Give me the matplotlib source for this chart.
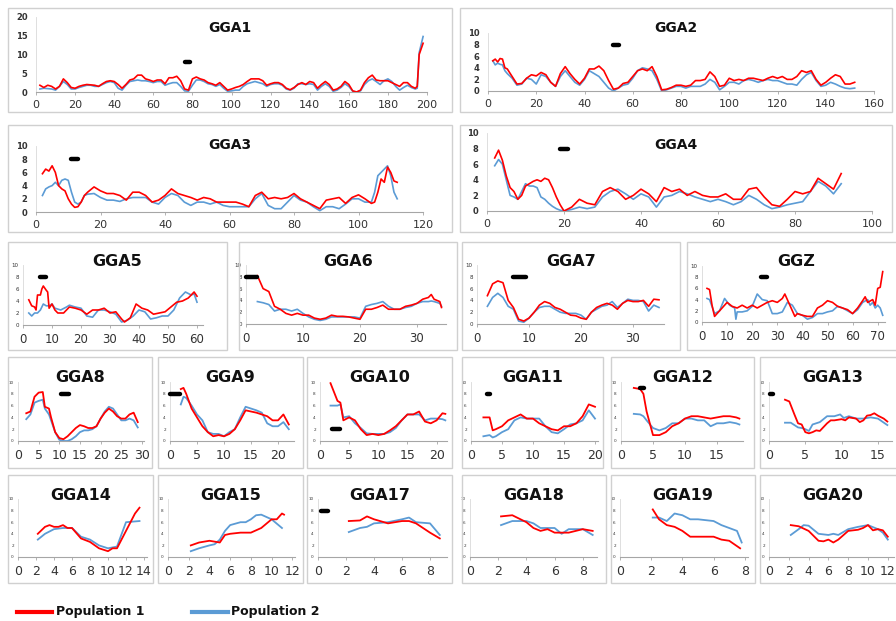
"""Two-population sliding-window profiles along chicken chromosomes (22 panels)."""
import numpy as np
import matplotlib
matplotlib.use("Agg")
import matplotlib.pyplot as plt
from matplotlib.patches import Rectangle

RED, BLUE = "#FF0000", "#5B9BD5"
W, H = 896, 621

# ---------------------------------------------------------------- data
gga1_pos = np.r_[np.arange(2, 195, 2), 195, 196, 198]
gga1_pop1 = [1.8, 1.2, 1.8, 1.5, 0.8, 1.5, 3.5, 2.5, 1.2, 1.0,
             1.5, 1.8, 2.0, 1.9, 1.8, 1.5, 2.2, 2.8, 3.0, 2.8,
             2.0, 1.0, 2.0, 3.2, 3.5, 4.5, 4.5, 3.5, 3.2, 2.8,
             3.2, 3.2, 2.2, 3.8, 3.8, 4.2, 3.0, 0.8, 0.5, 3.5,
             4.0, 3.5, 3.2, 2.5, 2.2, 1.8, 2.5, 1.5, 0.5, 0.8,
             1.2, 1.5, 2.0, 2.8, 3.5, 3.5, 3.5, 3.0, 1.8, 2.2,
             2.5, 2.5, 2.0, 1.0, 0.6, 1.2, 2.0, 2.5, 2.0, 2.8,
             2.5, 1.0, 2.0, 2.8, 2.0, 0.5, 0.8, 1.5, 2.8, 2.0,
             0.3, 0.0, 0.5, 2.5, 3.8, 4.5, 3.2, 3.0, 3.0, 3.0,
             2.5, 2.0, 1.5, 2.5, 2.5, 1.5, 1.0, 1.5, 10.0, 13.0]
gga1_pop2 = [0.8, 1.0, 0.9, 0.8, 0.5, 1.5, 2.8, 2.0, 0.8, 0.8,
             1.2, 1.5, 1.8, 1.8, 1.5, 1.5, 2.0, 2.5, 2.8, 2.5,
             1.0, 0.5, 1.8, 2.8, 3.0, 3.2, 3.0, 3.0, 2.8, 2.5,
             2.8, 2.8, 1.8, 2.2, 2.5, 2.5, 1.5, 0.3, 0.2, 1.8,
             3.2, 3.2, 2.8, 2.2, 2.0, 1.5, 2.0, 1.0, 0.2, 0.3,
             0.5, 0.5, 1.5, 2.2, 2.5, 2.8, 2.5, 2.2, 1.5, 2.0,
             2.2, 2.2, 1.8, 0.8, 0.5, 1.0, 2.2, 2.2, 2.0, 2.2,
             2.0, 0.5, 1.5, 2.2, 1.5, 0.2, 0.5, 1.2, 2.2, 1.5,
             0.2, 0.0, 0.3, 2.0, 3.0, 3.5, 2.8, 2.0, 3.0, 3.5,
             2.8, 1.5, 0.5, 1.2, 1.8, 1.2, 0.8, 1.0, 10.5, 14.8]

gga2_pos = np.r_[2, 3, 4, 5, 6, 7, np.arange(8, 153, 2)]
gga2_pop1 = [5.2, 5.5, 5.0, 5.6, 5.5, 4.0,
             3.8, 2.5, 1.2, 1.3, 2.2, 2.8, 2.6, 3.2, 2.8, 1.5,
             0.8, 3.0, 4.2, 3.0, 2.0, 1.2, 2.2, 3.8, 3.8, 4.3,
             3.5, 1.8, 0.3, 0.5, 1.3, 1.5, 2.5, 3.5, 3.8, 3.5,
             4.2, 2.5, 0.2, 0.3, 0.6, 1.0, 1.0, 0.8, 1.0, 1.8,
             1.8, 2.0, 3.3, 2.5, 0.8, 1.0, 2.2, 1.8, 2.0, 1.8,
             2.2, 2.2, 2.0, 1.8, 2.2, 2.5, 2.2, 2.5, 2.0, 2.0,
             2.5, 3.5, 3.2, 3.5, 2.0, 1.0, 1.5, 2.2, 2.8, 2.5,
             1.2, 1.2, 1.5]
gga2_pop2 = [5.2, 4.5, 4.8, 4.6, 4.5, 3.5,
             3.0, 2.2, 1.0, 1.2, 2.2, 2.0, 1.2, 2.8, 2.5, 1.5,
             0.8, 2.5, 3.5, 2.5, 1.5, 1.0, 2.0, 3.5, 3.0, 2.5,
             1.5, 0.5, 0.0, 0.5, 1.0, 1.2, 2.2, 3.5, 4.0, 3.8,
             3.5, 2.0, 0.0, 0.2, 0.5, 0.8, 0.8, 0.5, 0.8, 0.8,
             0.8, 1.2, 2.0, 1.5, 0.2, 0.8, 1.5, 1.5, 1.2, 1.8,
             2.0, 1.8, 1.5, 1.8, 2.0, 1.8, 1.8, 1.5, 1.2, 1.2,
             1.0, 2.0, 2.8, 3.2, 1.8, 0.8, 1.0, 1.5, 1.2, 0.8,
             0.5, 0.4, 0.5]

gga3_pos = np.r_[np.arange(2, 17), np.arange(18, 105, 2), np.arange(105, 113)]
gga3_pop1 = [5.8, 6.5, 6.2, 7.0, 6.0, 4.0, 3.5, 3.2, 2.0, 1.2, 0.7, 0.8, 1.5, 2.5, 3.0,
             3.8, 3.2, 2.8, 2.8, 2.5, 1.8, 3.0, 3.0, 2.5, 1.5,
             1.8, 2.5, 3.5, 2.8, 2.5, 2.2, 1.8, 2.2, 2.0, 1.5,
             1.5, 1.5, 1.5, 1.2, 0.8, 2.5, 3.0, 2.0, 2.2, 2.0,
             2.2, 2.8, 2.0, 1.5, 1.0, 0.5, 1.8, 2.0, 2.2, 1.3,
             2.2, 2.6, 2.0, 1.3,
             1.5, 3.0, 5.0, 4.5, 6.8, 6.0, 4.7, 4.5]
gga3_pop2 = [2.5, 3.5, 3.8, 4.0, 4.5, 4.0, 4.8, 5.0, 4.8, 3.0, 1.5, 1.2, 1.5, 2.5, 2.7,
             2.8, 2.2, 1.8, 1.8, 1.6, 2.0, 2.2, 2.2, 2.2, 1.5,
             1.2, 2.2, 2.8, 2.5, 1.5, 1.0, 1.5, 1.5, 1.2, 1.5,
             1.0, 0.8, 0.8, 0.8, 0.8, 2.0, 2.8, 1.0, 0.5, 0.5,
             1.5, 2.5, 1.8, 1.5, 0.8, 0.2, 0.8, 0.8, 0.5, 1.2,
             2.0, 2.0, 1.5, 1.5,
             3.0, 5.5, 6.0, 6.5, 7.0, 5.5, 3.0, 2.0]

gga4_pos = np.r_[np.arange(2, 21), np.arange(22, 93, 2)]
gga4_pop1 = [6.8, 7.8, 6.5, 4.5, 3.0, 2.5, 1.5, 2.0, 3.2, 3.5,
             3.8, 4.0, 3.8, 4.2, 4.0, 3.0, 1.8, 0.8, 0.0,
             0.5, 1.5, 1.0, 0.8, 2.5, 3.0, 2.5, 1.5, 2.0, 2.8,
             2.2, 1.2, 3.0, 2.5, 2.8, 2.0, 2.5, 2.0, 1.8, 1.8,
             2.2, 1.5, 1.5, 2.8, 3.0, 1.8, 0.8, 0.6, 1.5, 2.5,
             2.2, 2.5, 4.2, 3.5, 2.8, 4.8]
gga4_pop2 = [5.8, 6.6, 6.0, 4.0, 2.0, 1.8, 1.5, 2.5, 3.5, 3.2,
             3.2, 3.0, 1.8, 1.5, 1.0, 0.6, 0.3, 0.1, 0.0,
             0.2, 0.5, 0.3, 0.5, 1.8, 2.5, 2.8, 2.2, 1.5, 2.2,
             1.8, 0.5, 1.8, 2.0, 2.5, 2.2, 1.8, 1.5, 1.2, 1.5,
             1.2, 0.8, 1.2, 2.0, 1.5, 0.8, 0.3, 0.5, 0.8, 1.0,
             1.2, 2.5, 3.8, 3.2, 2.2, 3.5]

gga5_pos1 = [2, 3, 4, 4.5, 5, 6, 6.5, 7, 8, 8.5, 9, 10, 11, 12, 14, 16, 18, 20, 22, 24,
             26, 28, 30, 32, 34, 35, 37, 39, 41, 43, 45, 47, 49, 51, 53, 55, 57, 59, 60]
gga5_pop1 = [4.2, 3.2, 3.0, 2.5, 5.0, 5.0, 6.0, 6.5, 5.8, 5.5, 2.8, 3.5, 2.5, 2.0, 2.0,
             3.0, 2.8, 2.5, 1.8, 2.5, 2.5, 2.8, 2.0, 2.2, 1.0, 0.5, 1.2, 3.5, 2.8, 2.5,
             1.8, 2.0, 2.2, 3.0, 3.8, 4.0, 4.5, 5.5, 4.8]
gga5_pos2 = [2, 3, 4, 5, 6, 7, 8, 9, 10, 11, 13, 15, 16, 18, 20, 22, 24, 26, 28, 30,
             32, 34, 36, 38, 40, 42, 44, 46, 48, 50, 52, 54, 56, 58, 59, 60]
gga5_pop2 = [2.0, 1.5, 2.0, 2.0, 2.5, 3.5, 3.2, 3.2, 3.5, 2.8, 2.5, 3.0, 3.3, 3.0, 2.8,
             1.5, 1.3, 2.5, 2.5, 2.2, 1.8, 0.5, 0.8, 1.5, 2.5, 2.2, 1.0, 1.2, 1.5, 1.5,
             2.5, 4.5, 5.5, 5.0, 5.2, 3.8]

gga6_pos = np.r_[np.arange(2, 33), 32.5, 33, 34, 34.3]
gga6_pos = np.sort(gga6_pos)
gga6_pop1 = [8.2, 6.0, 5.5, 3.0, 2.5, 1.8, 1.5, 1.8, 1.5, 1.5, 1.0, 0.8, 1.0, 1.5, 1.3,
             1.3, 1.2, 1.0, 0.8, 2.5, 2.5, 2.8, 3.2, 2.5, 2.5, 2.5, 3.0, 3.2, 3.5, 4.2,
             4.5, 5.0, 4.2, 3.8, 2.8]
gga6_pop2 = [3.8, 3.6, 3.3, 2.2, 2.5, 2.5, 2.2, 2.5, 1.8, 1.2, 0.8, 0.6, 0.8, 1.2, 1.2,
             1.2, 1.2, 1.2, 1.0, 3.0, 3.3, 3.5, 3.8, 3.0, 2.5, 2.5, 2.8, 3.0, 3.5, 3.8,
             3.8, 3.9, 3.8, 3.5, 3.0]

gga7_pos = np.arange(2, 36)
gga7_pop1 = [4.8, 6.8, 7.3, 7.0, 4.0, 2.8, 0.8, 0.5, 1.0, 2.0, 3.2, 3.8, 3.5, 2.8, 2.5,
             2.0, 1.5, 1.4, 1.0, 0.8, 2.0, 2.8, 3.2, 3.5, 3.2, 2.5, 3.5, 4.0, 3.8, 3.8,
             4.0, 3.0, 4.2, 4.1]
gga7_pop2 = [3.0, 4.5, 5.2, 4.5, 3.0, 2.5, 0.5, 0.3, 1.0, 2.0, 2.8, 3.0, 3.0, 2.5, 2.0,
             1.8, 1.8, 1.8, 1.5, 0.8, 2.0, 2.5, 3.0, 3.2, 3.8, 2.8, 3.5, 4.2, 4.0, 4.0,
             3.8, 2.2, 3.2, 2.8]

ggz_pos1 = [2, 3, 4, 5, 6, 8, 10, 12, 14, 16, 18, 20, 22, 24, 26, 28, 30, 32, 33, 35,
            36, 37, 38, 40, 42, 44, 46, 48, 50, 52, 54, 56, 58, 60, 62, 64, 65, 66, 68, 69,
            70, 71, 72]
ggz_pop1 = [6.0, 5.8, 3.0, 1.0, 1.5, 2.5, 3.5, 2.8, 2.5, 3.0, 2.5, 3.0, 2.5, 3.0, 3.5,
            3.8, 3.5, 4.2, 5.0, 3.0, 2.0, 1.0, 1.5, 1.2, 1.0, 1.0, 2.5, 3.0, 3.8, 3.5,
            2.8, 2.5, 2.2, 1.5, 2.5, 3.8, 4.5, 3.5, 4.0, 3.0, 6.0, 6.2, 9.0]
ggz_pos2 = [2, 3, 5, 7, 9, 11, 13, 13.5, 14, 16, 18, 20, 22, 24, 26, 28, 30, 32, 34, 36,
            38, 40, 42, 44, 46, 48, 50, 52, 54, 56, 58, 60, 62, 64, 66, 67, 68, 69, 70, 71,
            72]
ggz_pop2 = [4.2, 4.0, 1.5, 2.0, 4.2, 3.0, 2.5, 0.5, 1.8, 1.8, 2.0, 2.8, 5.0, 4.0, 3.8,
            1.5, 1.5, 1.8, 3.5, 3.0, 1.5, 1.2, 0.5, 0.8, 1.5, 1.5, 1.8, 2.0, 2.8, 2.5,
            2.0, 1.5, 2.2, 3.5, 4.0, 3.0, 3.5, 2.5, 3.0, 2.5, 1.2]

gga8_pos = np.r_[2, 3, 4, 5, 6, 6.5, 7.5, np.arange(8, 30)]
gga8_pop1 = [4.7, 5.0, 7.5, 8.2, 8.3, 5.8, 5.5, 4.0, 1.5, 0.5, 0.3, 0.8, 1.5, 2.2, 2.7,
             2.5, 2.2, 2.2, 2.5, 3.8, 4.8, 5.5, 5.0, 4.2, 3.8, 3.8, 4.5, 4.8, 3.2]
gga8_pop2 = [3.7, 4.5, 6.5, 6.8, 7.0, 5.5, 4.5, 3.5, 1.5, 0.2, 0.0, 0.0, 0.3, 0.8, 1.5,
             1.8, 1.8, 2.0, 2.5, 3.8, 5.0, 5.8, 5.5, 4.5, 3.5, 3.5, 3.8, 3.5, 2.3]

gga9_pos = np.r_[2, 2.5, np.arange(3, 23)]
gga9_pop1 = [8.8, 9.0, 8.0, 5.5, 4.0, 2.5, 1.5, 0.8, 1.0, 0.8, 1.2, 2.0, 3.5, 5.2, 5.0,
             4.8, 4.5, 4.2, 3.5, 3.5, 4.5, 2.8]
gga9_pop2 = [6.2, 7.5, 7.3, 6.0, 4.5, 3.5, 1.5, 1.2, 1.2, 0.8, 1.5, 2.0, 4.0, 5.8, 5.5,
             5.2, 4.8, 3.0, 2.5, 2.5, 3.2, 2.0]

gga10_pos = np.r_[1.8, 3, 3.5, np.arange(4, 22), 21.5]
gga10_pop1 = [9.8, 6.8, 6.5, 3.5, 4.0, 3.5, 2.0, 1.0, 1.2, 1.0, 1.2, 1.8, 2.5, 3.5, 4.5,
              4.5, 5.0, 3.3, 3.0, 3.5, 4.7, 4.6]
gga10_pop2 = [6.0, 6.0, 6.2, 4.0, 4.2, 3.0, 2.2, 1.3, 1.2, 1.2, 1.2, 1.5, 2.2, 3.5, 4.5,
              4.5, 4.5, 3.5, 3.8, 3.8, 3.7, 3.5]

gga11_pos = np.r_[2, 3, 3.5, np.arange(4, 21)]
gga11_pop1 = [4.0, 4.0, 1.8, 2.0, 2.5, 3.5, 4.0, 4.5, 3.8, 3.8, 3.0, 2.5, 2.0, 1.8, 2.5,
              2.5, 3.0, 4.2, 6.2, 5.8]
gga11_pop2 = [0.8, 1.0, 0.6, 0.8, 1.5, 2.0, 3.5, 4.0, 3.8, 3.8, 3.8, 2.5, 1.5, 1.3, 2.0,
              2.8, 3.0, 3.5, 5.2, 3.8]

gga12_pos = np.r_[2, 3, 3.5, np.arange(4, 19), 18.5]
gga12_pop1 = [9.0, 8.8, 8.0, 5.0, 1.0, 1.0, 1.5, 2.5, 3.0, 3.8, 4.2, 4.2, 4.0, 3.8, 4.0,
              4.2, 4.2, 4.0, 3.8]
gga12_pop2 = [4.6, 4.5, 4.2, 3.5, 2.2, 1.8, 2.2, 3.0, 3.0, 3.8, 3.8, 3.5, 3.5, 2.5, 3.0,
              3.0, 3.2, 3.0, 2.8]

gga13_pos1 = [2.2, 2.8, 3.5, 4, 4.5, 5, 5.5, 6, 6.5, 7, 8, 8.5, 9, 10, 10.5, 11, 12, 12.5,
              13, 13.5, 14, 14.5, 15, 15.8, 16.3]
gga13_pop1 = [7.0, 6.7, 4.5, 3.0, 2.8, 1.5, 1.3, 1.5, 1.8, 1.7, 3.0, 3.5, 3.5, 3.7, 3.5,
              4.0, 3.8, 3.2, 3.5, 4.3, 4.4, 4.7, 4.3, 3.8, 3.3]
gga13_pos2 = [2.2, 3, 4, 4.5, 5, 5.5, 6, 7, 8, 9, 9.8, 10.3, 11, 12, 13, 14, 15, 16.3]
gga13_pop2 = [3.1, 3.1, 2.3, 2.2, 2.0, 1.7, 2.8, 3.2, 4.2, 4.2, 4.5, 3.9, 4.2, 3.8, 3.8,
              4.0, 3.8, 2.7]

gga14_pos1 = [2.2, 3, 3.5, 4, 4.5, 5, 5.5, 6, 7, 8, 9, 10, 10.5, 11, 12, 13, 13.5]
gga14_pop1 = [4.0, 5.2, 5.5, 5.2, 5.2, 5.5, 5.0, 5.0, 3.2, 2.6, 1.5, 1.0, 1.5, 1.5, 4.5,
              7.5, 8.5]
gga14_pos2 = [2.2, 3, 4, 5, 6, 7, 8, 9, 10, 11, 12, 13.5]
gga14_pop2 = [3.0, 4.0, 4.8, 5.0, 5.0, 3.5, 3.0, 2.0, 1.5, 1.8, 6.0, 6.2]

gga15_pos1 = [2.2, 3, 4, 5, 5.5, 6, 7, 8, 9, 10, 10.5, 11, 11.2]
gga15_pop1 = [2.0, 2.5, 2.8, 2.5, 3.8, 4.0, 4.2, 4.2, 5.0, 6.5, 6.5, 7.5, 7.3]
gga15_pos2 = [2.2, 3, 4, 4.5, 5, 5.5, 6, 7, 7.5, 8, 8.5, 9, 10, 11]
gga15_pop2 = [1.0, 1.5, 2.0, 2.2, 3.0, 4.5, 5.5, 6.0, 6.0, 6.5, 7.2, 7.3, 6.5, 5.0]

gga17_pos = [2.2, 3, 3.5, 4, 5, 6, 6.5, 7, 8, 8.7]
gga17_pop1 = [6.2, 6.3, 7.0, 6.5, 5.8, 6.2, 6.2, 5.8, 4.2, 3.2]
gga17_pop2 = [4.3, 5.0, 5.2, 5.8, 6.0, 6.5, 6.8, 6.0, 5.8, 3.8]

gga18_pos1 = [2.2, 3, 4, 4.5, 5, 5.5, 6, 7, 8, 8.7]
gga18_pop1 = [7.0, 7.2, 6.0, 5.0, 4.5, 4.8, 4.2, 4.2, 4.8, 4.5]
gga18_pos2 = [2.2, 3, 4, 4.5, 5, 5.5, 6, 6.5, 7, 8, 8.7]
gga18_pop2 = [5.5, 6.2, 6.2, 5.8, 5.0, 5.0, 5.0, 4.0, 4.8, 4.8, 3.8]

gga19_pos1 = [2.1, 2.5, 3, 3.5, 4, 4.5, 5, 6, 6.5, 7, 7.7]
gga19_pop1 = [8.2, 6.5, 5.5, 5.2, 4.5, 3.5, 3.5, 3.5, 3.0, 2.8, 1.5]
gga19_pos2 = [2.1, 2.5, 3, 3.5, 4, 4.5, 5, 6, 6.5, 7, 7.5, 7.8]
gga19_pop2 = [6.8, 6.8, 6.2, 7.5, 7.2, 6.5, 6.5, 6.2, 5.5, 5.0, 4.5, 2.5]

gga20_pos1 = [2.2, 3, 4, 5, 5.5, 6, 6.5, 7, 8, 9, 9.5, 10, 10.5, 11, 11.5, 12]
gga20_pop1 = [5.5, 5.3, 4.5, 2.8, 2.7, 3.0, 2.5, 3.0, 4.5, 4.7, 5.0, 5.5, 4.6, 4.8, 4.6, 3.5]
gga20_pos2 = [2.2, 3, 3.5, 4, 5, 6, 6.5, 7, 8, 9, 10, 11, 11.5, 12]
gga20_pop2 = [3.8, 4.8, 5.5, 5.4, 4.0, 3.8, 4.0, 3.8, 4.8, 5.2, 5.5, 4.8, 4.2, 3.0]

# black bars: (start, end, height)
markers = {"GGA1": (76, 79, 8), "GGA2": (52, 54.5, 8), "GGA3": (11, 13, 8),
           "GGA4": (19, 21, 8), "GGA5": (6, 8, 8), "GGA6": (0, 2, 8),
           "GGA7": (7, 9.5, 8), "GGZ": (23.5, 26, 8), "GGA8": (10.5, 12.3, 8),
           "GGA9": (0, 1.8, 8), "GGA10": (2, 3.5, 2), "GGA11": (2.6, 3.1, 8),
           "GGA12": (2.9, 3.6, 9), "GGA13": (0.1, 0.5, 8), "GGA17": (0.2, 0.7, 8)}

series = {
    "GGA1": (gga1_pos, gga1_pop1, gga1_pos, gga1_pop2),
    "GGA2": (gga2_pos, gga2_pop1, gga2_pos, gga2_pop2),
    "GGA3": (gga3_pos, gga3_pop1, gga3_pos, gga3_pop2),
    "GGA4": (gga4_pos, gga4_pop1, gga4_pos, gga4_pop2),
    "GGA5": (gga5_pos1, gga5_pop1, gga5_pos2, gga5_pop2),
    "GGA6": (gga6_pos, gga6_pop1, gga6_pos, gga6_pop2),
    "GGA7": (gga7_pos, gga7_pop1, gga7_pos, gga7_pop2),
    "GGZ": (ggz_pos1, ggz_pop1, ggz_pos2, ggz_pop2),
    "GGA8": (gga8_pos, gga8_pop1, gga8_pos, gga8_pop2),
    "GGA9": (gga9_pos, gga9_pop1, gga9_pos, gga9_pop2),
    "GGA10": (gga10_pos, gga10_pop1, gga10_pos, gga10_pop2),
    "GGA11": (gga11_pos, gga11_pop1, gga11_pos, gga11_pop2),
    "GGA12": (gga12_pos, gga12_pop1, gga12_pos, gga12_pop2),
    "GGA13": (gga13_pos1, gga13_pop1, gga13_pos2, gga13_pop2),
    "GGA14": (gga14_pos1, gga14_pop1, gga14_pos2, gga14_pop2),
    "GGA15": (gga15_pos1, gga15_pop1, gga15_pos2, gga15_pop2),
    "GGA17": (gga17_pos, gga17_pop1, gga17_pos, gga17_pop2),
    "GGA18": (gga18_pos1, gga18_pop1, gga18_pos2, gga18_pop2),
    "GGA19": (gga19_pos1, gga19_pop1, gga19_pos2, gga19_pop2),
    "GGA20": (gga20_pos1, gga20_pop1, gga20_pos2, gga20_pop2),
}

# ---------------------------------------------------------------- layout (pixels)
# name: box(l, t, r, b), x0 px, px per unit, xmax, y0 px, ytop px, ymax, xstep, ystep, row style
LAYOUT = {
    "GGA1": ((8, 8, 452, 112), 36, 1.955, 200, 92, 17, 20, 20, 5, "big"),
    "GGA2": ((460, 8, 892, 112), 488, 2.4125, 160, 91, 33, 10, 20, 2, "big"),
    "GGA3": ((8, 125, 452, 232), 36, 3.225, 120, 212, 146, 10, 20, 2, "big"),
    "GGA4": ((460, 125, 892, 232), 487, 3.85, 100, 211, 133, 10, 20, 2, "big"),
    "GGA5": ((8, 242, 227, 350), 23, 2.9, 62, 325, 265, 10, 10, 2, "mid"),
    "GGA6": ((239, 242, 457, 350), 246, 5.7, 35, 324, 265, 10, 10, 2, "mid"),
    "GGA7": ((462, 242, 680, 350), 477, 5.2, 36, 324, 265, 10, 10, 2, "mid"),
    "GGZ": ((687, 242, 905, 350), 702, 2.51, 73, 322, 266, 10, 10, 2, "mid"),
    "GGA8": ((8, 357, 152, 468), 18, 4.13, 30.5, 441, 382, 10, 5, 2, "small"),
    "GGA9": ((158, 357, 303, 468), 170, 5.4, 23, 441, 382, 10, 5, 2, "small"),
    "GGA10": ((307, 357, 452, 468), 320, 5.83, 21.8, 441, 382, 10, 5, 2, "small"),
    "GGA11": ((462, 357, 603, 468), 471, 6.2, 20.5, 441, 382, 10, 5, 2, "small"),
    "GGA12": ((611, 357, 754, 468), 621, 6.4, 19, 441, 382, 10, 5, 2, "small"),
    "GGA13": ((760, 357, 905, 468), 769, 7.26, 17, 441, 382, 10, 5, 2, "small"),
    "GGA14": ((8, 475, 153, 583), 18, 9.0, 14.3, 557, 499, 10, 2, 2, "small"),
    "GGA15": ((158, 475, 303, 583), 168, 10.36, 12.3, 557, 499, 10, 2, 2, "small"),
    "GGA17": ((307, 475, 452, 583), 318, 14.0, 9.2, 557, 499, 10, 2, 2, "small"),
    "GGA18": ((462, 475, 606, 583), 470, 14.1, 9, 557, 499, 10, 2, 2, "small"),
    "GGA19": ((611, 475, 755, 583), 620, 15.6, 8.2, 557, 499, 10, 2, 2, "small"),
    "GGA20": ((760, 475, 905, 583), 769, 9.9, 12.6, 557, 499, 10, 2, 2, "small"),
}
STYLE = {  # title size, x label size, y label size, y label bold, line width
    "big": (10, 8, 6, True, 1.2),
    "mid": (11.5, 8.5, 4, False, 1.2),
    "small": (11.5, 9, 3, False, 1.3),
}

fig = plt.figure(figsize=(W / 100, H / 100), dpi=100)


def fx(px):
    return px / W


def fy(py):
    return 1 - py / H


for name, (box, x0, ppu, xmax, y0, ytop, ymax, xstep, ystep, row) in LAYOUT.items():
    tsize, xsize, ysize, ybold, lw = STYLE[row]
    l, t, r, b = box
    fig.patches.append(Rectangle((fx(l), fy(b)), (r - l) / W, (b - t) / H,
                                 transform=fig.transFigure, fill=False,
                                 edgecolor="#d0d0d0", lw=1.0, zorder=0))
    fig.text(fx((l + r) / 2), fy(t + 20), name, ha="center", va="center",
             fontsize=tsize, fontweight="bold", color="#111111")

    ax = fig.add_axes([fx(x0), fy(y0), xmax * ppu / W, (y0 - ytop) / H])
    ax.patch.set_alpha(0)
    p1x, p1, p2x, p2 = series[name]
    ax.plot(p1x, p1, color=RED, lw=lw, zorder=3)
    ax.plot(p2x, p2, color=BLUE, lw=lw, zorder=2)
    if name in markers:
        a, e, hgt = markers[name]
        ax.plot([a, e], [hgt, hgt], color="black", lw=3.2, solid_capstyle="round",
                zorder=4, clip_on=False)
    ax.set_xlim(0, xmax)
    ax.set_ylim(0, ymax)
    ax.set_xticks(np.arange(0, xmax + 0.01, xstep))
    ax.set_yticks(np.arange(0, ymax + 0.01, ystep))
    ax.xaxis.set_major_formatter(plt.FuncFormatter(lambda v, p: f"{v:g}"))
    for s in ("top", "right"):
        ax.spines[s].set_visible(False)
    ax.spines["bottom"].set_color("#a6a6a6")
    ax.spines["bottom"].set_linewidth(0.8)
    ax.spines["left"].set_color("#d9d9d9")
    ax.spines["left"].set_linewidth(0.6)
    ax.tick_params(axis="x", length=2, width=0.6, color="#a6a6a6", pad=4,
                   labelsize=xsize, labelcolor="#333333")
    ax.tick_params(axis="y", length=0, pad=3 if row != "big" else 6,
                   labelsize=ysize, labelcolor="#333333")
    if ybold:
        for lab in ax.get_yticklabels():
            lab.set_fontweight("bold")

# legend
ly = fy(612)
fig.add_artist(plt.Line2D([fx(17), fx(52)], [ly, ly], color=RED, lw=3,
                          transform=fig.transFigure))
fig.text(fx(56), ly, "Population 1", ha="left", va="center", fontsize=9,
         fontweight="bold", color="#111111")
fig.add_artist(plt.Line2D([fx(192), fx(228)], [ly, ly], color=BLUE, lw=3,
                          transform=fig.transFigure))
fig.text(fx(231), ly, "Population 2", ha="left", va="center", fontsize=9,
         fontweight="bold", color="#111111")

fig.savefig("out.png", dpi=100)
